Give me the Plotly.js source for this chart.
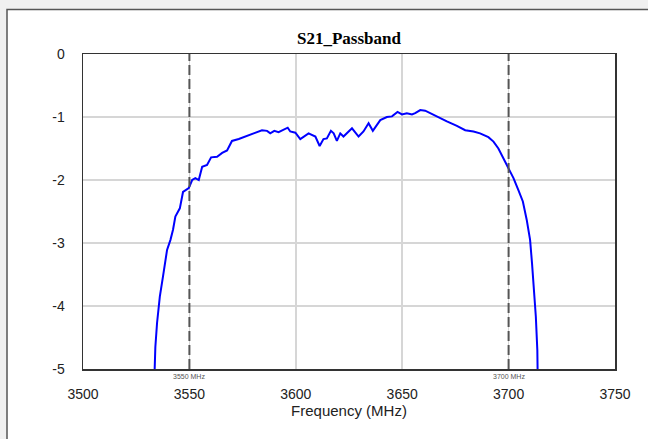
<!DOCTYPE html>
<html>
<head>
<meta charset="utf-8">
<script src="https://cdn.plot.ly/plotly-3.0.1.min.js"></script>
<style>
  html, body { margin: 0; padding: 0; background: #f0f0f0; }
  #chart { width: 648px; height: 439px; }
</style>
</head>
<body>
<div id="chart"></div>
<script>
// Frequency (MHz) and S21 (dB)
const freqMHz = [3533.5, 3533.6, 3534.0, 3534.8, 3536.1, 3537.6, 3539.5, 3541.1, 3542.3, 3543.4,
  3544.2, 3545.5, 3547.0, 3549.7, 3551.3, 3552.8, 3554.4, 3556.0, 3558.3, 3560.2,
  3563.0, 3565.4, 3567.7, 3570.0, 3573.2, 3577.1, 3580.2, 3584.1, 3586.5, 3588.0,
  3589.9, 3591.9, 3596.2, 3597.4, 3599.8, 3602.1, 3606.0, 3609.2, 3611.2, 3613.0,
  3614.6, 3616.5, 3617.8, 3619.3, 3620.9, 3622.4, 3626.4, 3627.5, 3629.5, 3631.8,
  3634.2, 3636.2, 3639.7, 3642.8, 3645.2, 3647.8, 3649.9, 3652.2, 3654.6, 3656.1,
  3658.5, 3660.8, 3664.7, 3671.0, 3675.7, 3679.6, 3683.5, 3686.6, 3690.5, 3692.9,
  3695.2, 3697.6, 3700.2, 3702.3, 3704.6, 3706.7, 3708.5, 3710.1, 3711.0, 3712.0,
  3712.8, 3713.5, 3713.6, 3713.7];
const s21dB = [-5.2, -5.0, -4.65, -4.27, -3.85, -3.53, -3.11, -2.95, -2.79, -2.58,
  -2.53, -2.45, -2.19, -2.13, -2.00, -1.97, -2.00, -1.79, -1.76, -1.64,
  -1.63, -1.57, -1.53, -1.38, -1.35, -1.30, -1.27, -1.21, -1.22, -1.26,
  -1.22, -1.24, -1.17, -1.23, -1.25, -1.35, -1.26, -1.31, -1.46, -1.35,
  -1.34, -1.22, -1.26, -1.38, -1.26, -1.31, -1.18, -1.23, -1.31, -1.23,
  -1.10, -1.22, -1.05, -1.00, -0.99, -0.92, -0.96, -0.94, -0.96, -0.94,
  -0.89, -0.90, -0.97, -1.07, -1.14, -1.21, -1.23, -1.26, -1.32, -1.39,
  -1.50, -1.66, -1.82, -1.97, -2.16, -2.34, -2.63, -2.95, -3.32, -3.80,
  -4.17, -4.70, -5.0, -5.2];

const markerFreqs = [3550, 3700];
const markerLabels = ["3550 MHz", "3700 MHz"];
const xTicks = [3500, 3550, 3600, 3650, 3700, 3750];
const yTicks = [0, -1, -2, -3, -4, -5];

const trace = {
  x: freqMHz, y: s21dB, type: 'scatter', mode: 'lines',
  line: { color: '#0000ff', width: 2 },
  hoverinfo: 'skip'
};

const L = 83, R = 33, T = 54, B = 70, W = 648, H = 439;
const pw = W - L - R, ph = H - T - B;
const px2x = p => (p - L) / pw;
const px2y = p => (H - B - p) / ph;

const shapes = [
  { type: 'rect', xref: 'paper', yref: 'paper', layer: 'below',
    x0: px2x(7), x1: px2x(660), y0: px2y(450), y1: px2y(9.5),
    fillcolor: '#ffffff', line: { color: '#555555', width: 1.5 } }
];
markerFreqs.forEach(f => shapes.push({
  type: 'line', xref: 'x', yref: 'paper', x0: f, x1: f, y0: 0, y1: 1,
  line: { color: '#555555', width: 2, dash: '10px,4px' }
}));

const annotations = markerFreqs.map((f, i) => ({
  x: f, xref: 'x', y: px2y(376), yref: 'paper', text: markerLabels[i],
  showarrow: false, xanchor: 'center', yanchor: 'middle',
  font: { family: 'Liberation Sans, Arial, sans-serif', size: 7, color: '#555555' }
}));

const layout = {
  width: W, height: H,
  margin: { l: L, r: R, t: T, b: B, pad: 0 },
  paper_bgcolor: '#f0f0f0', plot_bgcolor: '#ffffff',
  showlegend: false,
  title: { text: '<b>S21_Passband</b>', x: px2x(348.5) * 0 + (L + pw / 2) / W, xanchor: 'center',
    y: 1 - 38 / H, yanchor: 'middle', yref: 'container',
    font: { family: 'Liberation Serif, Times New Roman, serif', size: 17, color: '#000000' } },
  xaxis: {
    range: [3500, 3750], tickvals: xTicks, ticktext: xTicks.map(String),
    showgrid: true, gridcolor: '#d6d6d6', gridwidth: 1.5,
    showline: true, mirror: true, linecolor: '#333333', linewidth: 1.5,
    ticks: '', zeroline: false, ticklabelstandoff: 12,
    tickfont: { family: 'Liberation Sans, Arial, sans-serif', size: 14, color: '#222222' },
    title: { text: 'Frequency (MHz)', standoff: 4,
      font: { family: 'Liberation Sans, Arial, sans-serif', size: 15, color: '#222222' } }
  },
  yaxis: {
    range: [-5, 0], tickvals: yTicks, ticktext: yTicks.map(String),
    showgrid: true, gridcolor: '#d6d6d6', gridwidth: 1.5,
    showline: true, mirror: true, linecolor: '#333333', linewidth: 1.5,
    ticks: '', zeroline: false, ticklabelstandoff: 14,
    tickfont: { family: 'Liberation Sans, Arial, sans-serif', size: 14, color: '#222222' }
  },
  shapes: shapes,
  annotations: annotations
};

Plotly.newPlot('chart', [trace], layout, { staticPlot: true, displayModeBar: false });
</script>
</body>
</html>
